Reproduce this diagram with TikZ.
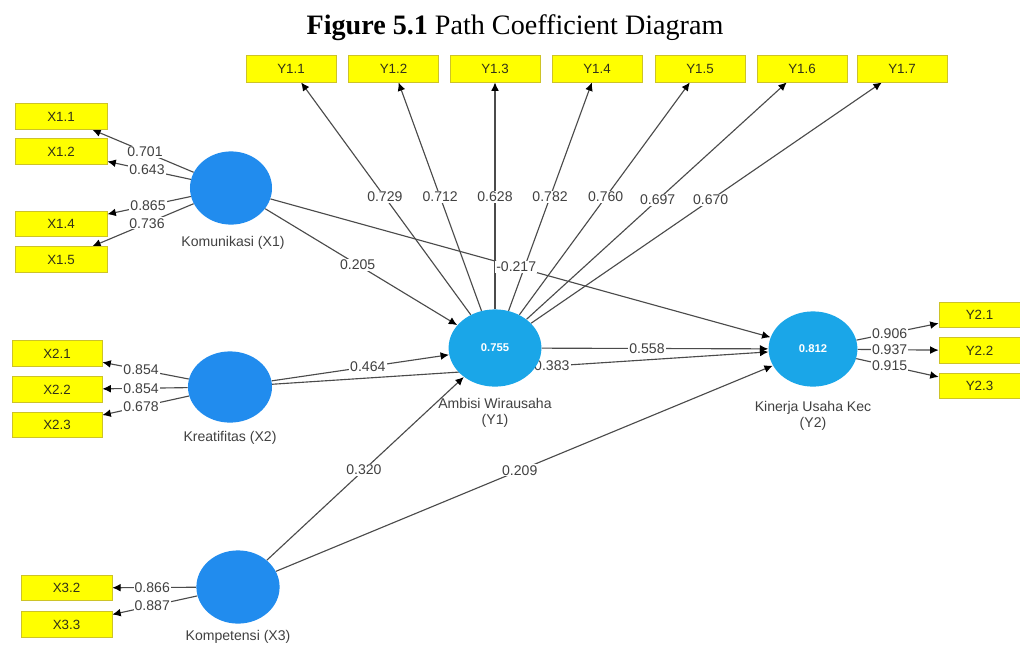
\documentclass[tikz,border=0pt]{standalone}
\usepackage{fontspec}
\setmainfont{Liberation Sans}
\newfontfamily\titlefont{Liberation Serif}
\usetikzlibrary{arrows.meta,calc,shapes.geometric}
\pgfdeclarelayer{base}\pgfdeclarelayer{bg}\pgfdeclarelayer{mid}
\pgfsetlayers{base,bg,mid,main}
\definecolor{xblue}{RGB}{33,140,238}
\definecolor{yblue}{RGB}{26,166,232}
\definecolor{boxfill}{RGB}{255,255,0}
\definecolor{boxedge}{RGB}{205,195,40}
\definecolor{linecol}{RGB}{75,75,75}
\definecolor{lbltext}{RGB}{65,65,65}
\definecolor{boxtext}{RGB}{50,50,25}
\begin{document}
\begin{tikzpicture}[x=0.025cm,y=-0.025cm,
  ind/.style={draw=boxedge,line width=0.5pt,fill=boxfill,minimum width=2.25cm,minimum height=0.64cm,inner sep=0pt,font=\fontsize{9.5}{10}\selectfont,text=boxtext},
  latx/.style={ellipse,fill=xblue,inner sep=0pt},
  laty/.style={ellipse,fill=yblue,inner sep=0pt,text=white,font=\fontsize{8}{9}\bfseries\selectfont},
  lvcap/.style={font=\fontsize{10}{11.5}\selectfont,text=lbltext,align=center},
  lbl/.style={fill=white,inner sep=0.8pt,font=\fontsize{10}{10}\selectfont,text=lbltext},
  conn/.style={draw=linecol,line width=0.8pt,-{Latex[length=6pt,width=5.5pt,color=black]}}]
\useasboundingbox (0,0) rectangle (1020,646);
\begin{pgfonlayer}{base}
\fill[white] (0,0) rectangle (1020,646);
\end{pgfonlayer}
% title
\node[font=\titlefont\fontsize{20}{22}\selectfont] (title) at (515,28) {\textbf{Figure 5.1} Path Coefficient Diagram};
% latent variables
\node[latx,minimum width=2.05cm,minimum height=1.83cm] (X1) at (231,188) {};
\node[latx,minimum width=2.1cm,minimum height=1.78cm] (X2) at (230,387) {};
\node[latx,minimum width=2.08cm,minimum height=1.83cm] (X3) at (238,587) {};
\node[laty,minimum width=2.32cm,minimum height=1.93cm] (Y1) at (495,348) {0.755};
\node[laty,minimum width=2.22cm,minimum height=1.88cm] (Y2) at (813,349) {0.812};
\node[lvcap] (cX1) at (233,243) {Komunikasi (X1)};
\node[lvcap] (cX2) at (230,438) {Kreatifitas (X2)};
\node[lvcap] (cX3) at (238,637) {Kompetensi (X3)};
\node[lvcap] (cY1) at (495,413) {Ambisi Wirausaha\\(Y1)};
\node[lvcap] (cY2) at (813,416) {Kinerja Usaha Kec\\(Y2)};
% indicators
\node[ind,minimum width=2.3cm] (x11) at (61,116.5) {X1.1};
\node[ind,minimum width=2.3cm] (x12) at (61,151.5) {X1.2};
\node[ind,minimum width=2.3cm] (x14) at (61,224) {X1.4};
\node[ind,minimum width=2.3cm] (x15) at (61,259.5) {X1.5};
\node[ind] (x21) at (57,353.5) {X2.1};
\node[ind] (x22) at (57,389.5) {X2.2};
\node[ind] (x23) at (57,425) {X2.3};
\node[ind,minimum width=2.27cm] (x32) at (66.5,588) {X3.2};
\node[ind,minimum width=2.27cm] (x33) at (66.5,624.5) {X3.3};
\node[ind,minimum height=0.675cm] (y11) at (291,68.5) {Y1.1};
\node[ind,minimum height=0.675cm] (y12) at (393.5,68.5) {Y1.2};
\node[ind,minimum height=0.675cm] (y13) at (495,68.5) {Y1.3};
\node[ind,minimum height=0.675cm] (y14) at (597,68.5) {Y1.4};
\node[ind,minimum height=0.675cm] (y15) at (700,68.5) {Y1.5};
\node[ind,minimum height=0.675cm] (y16) at (802,68.5) {Y1.6};
\node[ind,minimum height=0.675cm] (y17) at (902,68.5) {Y1.7};
\node[ind,minimum width=2.025cm] (y21) at (979.5,315) {Y2.1};
\node[ind,minimum width=2.025cm] (y22) at (979.5,350.5) {Y2.2};
\node[ind,minimum width=2.025cm] (y23) at (979.5,386) {Y2.3};
% connectors
\begin{pgfonlayer}{bg}
\foreach \b in {x11,x12,x14,x15} \draw[conn] (X1) -- (\b);
\foreach \b in {x21,x22,x23} \draw[conn] (X2) -- (\b);
\foreach \b in {x32,x33} \draw[conn] (X3) -- (\b);
\foreach \b in {y11,y12,y13,y14,y15,y16,y17} \draw[conn] (Y1) -- (\b);
\foreach \b in {y21,y22,y23} \draw[conn] (Y2) -- (\b);
\draw[conn] (X1) -- (Y1);
\draw[conn] (X1) -- (Y2);
\draw[conn] (X2) -- (Y1);
\draw[conn] (X2) -- (Y2);
\draw[conn] (X3) -- (Y1);
\draw[conn] (X3) -- (Y2);
\draw[conn] (Y1) -- (Y2);
\end{pgfonlayer}
% coefficient labels
\begin{pgfonlayer}{mid}
\node[lbl] (l11) at ($(X1.center)!0.506!(x11.center)$) {0.701};
\node[lbl] (l12) at ($(X1.center)!0.494!(x12.center)$) {0.643};
\node[lbl] (l14) at ($(X1.center)!0.488!(x14.center)$) {0.865};
\node[lbl] (l15) at ($(X1.center)!0.494!(x15.center)$) {0.736};
\node[lbl] (l21) at ($(X2.center)!0.514!(x21.center)$) {0.854};
\node[lbl] (l22) at ($(X2.center)!0.514!(x22.center)$) {0.854};
\node[lbl] (l23) at ($(X2.center)!0.514!(x23.center)$) {0.678};
\node[lbl] (l32) at ($(X3.center)!0.50!(x32.center)$) {0.866};
\node[lbl] (l33) at ($(X3.center)!0.50!(x33.center)$) {0.887};
\node[lbl] (m11) at ($(Y1.center)!0.54!(y11.center)$) {0.729};
\node[lbl] (m12) at ($(Y1.center)!0.54!(y12.center)$) {0.712};
\node[lbl] (m13) at ($(Y1.center)!0.54!(y13.center)$) {0.628};
\node[lbl] (m14) at ($(Y1.center)!0.54!(y14.center)$) {0.782};
\node[lbl] (m15) at ($(Y1.center)!0.54!(y15.center)$) {0.760};
\node[lbl] (m16) at ($(Y1.center)!0.53!(y16.center)$) {0.697};
\node[lbl] (m17) at ($(Y1.center)!0.53!(y17.center)$) {0.670};
\node[lbl] (n21) at ($(Y2.center)!0.46!(y21.center)$) {0.906};
\node[lbl] (n22) at ($(Y2.center)!0.46!(y22.center)$) {0.937};
\node[lbl] (n23) at ($(Y2.center)!0.46!(y23.center)$) {0.915};
\node[lbl] (p1) at ($(X1.center)!0.48!(Y1.center)$) {0.205};
\node[lbl] (p2) at ($(X1.center)!0.49!(Y2.center)$) {-0.217};
\node[lbl] (p3) at ($(X2.center)!0.52!(Y1.center)$) {0.464};
\node[lbl] (p4) at ($(X2.center)!0.552!(Y2.center)$) {0.383};
\node[lbl] (p5) at ($(X3.center)!0.49!(Y1.center)$) {0.320};
\node[lbl] (p6) at ($(X3.center)!0.49!(Y2.center)$) {0.209};
\node[lbl] (p7) at ($(Y1.center)!0.478!(Y2.center)$) {0.558};
\end{pgfonlayer}
\end{tikzpicture}
\end{document}
